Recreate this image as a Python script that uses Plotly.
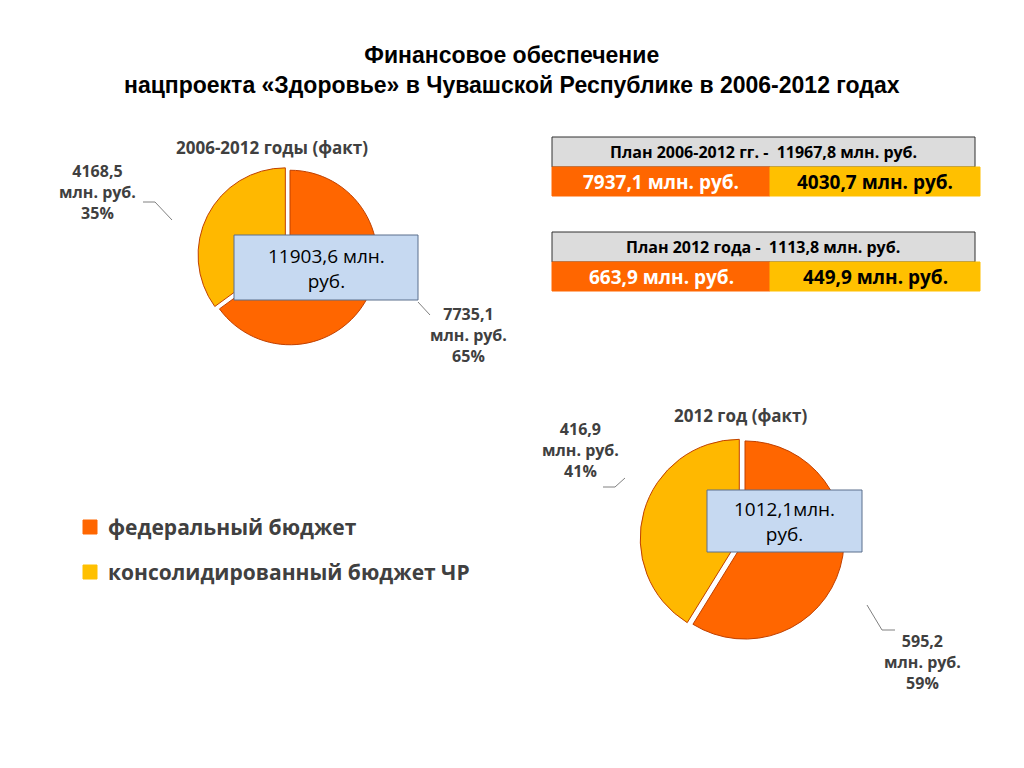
import plotly.graph_objects as go

W, H = 1024, 768

labels = ["федеральный бюджет", "консолидированный бюджет ЧР"]
colors = ["#FF6600", "#FFB800"]

fact_all = [7735.1, 4168.5]
fact_2012 = [595.2, 416.9]
total_all = "11903,6 млн.<br>руб."
total_2012 = "1012,1млн.<br>руб."

plan_all = "План 2006-2012 гг. -  11967,8 млн. руб."
plan_all_parts = ["7937,1 млн. руб.", "4030,7 млн. руб."]
plan_2012 = "План 2012 года -  1113,8 млн. руб."
plan_2012_parts = ["663,9 млн. руб.", "449,9 млн. руб."]

OFF = 8  # page body margin


def px(x):
    return (x - OFF) / W


def py(y):
    return 1 - (y - OFF) / H


fig = go.Figure()

fig.add_trace(go.Pie(
    values=fact_all, labels=labels, sort=False, direction="clockwise",
    rotation=0, pull=[0, 0.06], textinfo="none", hoverinfo="label+value",
    marker=dict(colors=colors, line=dict(color="#C04000", width=1)),
    domain=dict(x=[px(195), px(385)], y=[py(350), py(165)]),
    showlegend=False))

fig.add_trace(go.Pie(
    values=fact_2012, labels=labels, sort=False, direction="clockwise",
    rotation=0, pull=[0, 0.06], textinfo="none", hoverinfo="label+value",
    marker=dict(colors=colors, line=dict(color="#C04000", width=1)),
    domain=dict(x=[px(635), px(855)], y=[py(645), py(435)]),
    showlegend=False))

shapes = []
ann = []


def text(x, y, s, size=15, color="#404040", bold=True, align="center", xanchor="center"):
    ann.append(dict(x=px(x), y=py(y), xref="paper", yref="paper", text=f"<b>{s}</b>" if bold else s,
                    showarrow=False, align=align, xanchor=xanchor, yanchor="middle",
                    font=dict(size=size, color=color, family="Open Sans")))


# title
ann.append(dict(x=px(512), y=py(70), xref="paper", yref="paper", showarrow=False, yanchor="middle",
                text="<b>Финансовое обеспечение<br>нацпроекта «Здоровье» в Чувашской Республике в 2006-2012 годах</b>",
                font=dict(size=23, color="#000000", family="Liberation Sans")))

text(272, 147, "2006-2012 годы (факт)", 17)
text(740, 415, "2012 год (факт)", 17)

text(97, 192, "4168,5<br>млн. руб.<br>35%", 16)
text(468, 335, "7735,1<br>млн. руб.<br>65%", 16)
text(580, 450, "416,9<br>млн. руб.<br>41%", 16)
text(922, 662, "595,2<br>млн. руб.<br>59%", 16)

# leader lines
shapes += [
    dict(type="path", path=f"M {px(143)} {py(202)} L {px(155)} {py(202)} L {px(172)} {py(220)}",
         xref="paper", yref="paper", line=dict(color="#808080", width=1)),
    dict(type="path", path=f"M {px(418)} {py(302)} L {px(430)} {py(315)}",
         xref="paper", yref="paper", line=dict(color="#808080", width=1)),
    dict(type="path", path=f"M {px(603)} {py(487)} L {px(615)} {py(487)} L {px(625)} {py(478)}",
         xref="paper", yref="paper", line=dict(color="#808080", width=1)),
    dict(type="path", path=f"M {px(867)} {py(605)} L {px(882)} {py(630)} L {px(895)} {py(630)}",
         xref="paper", yref="paper", line=dict(color="#808080", width=1)),
]


def box(x0, y0, x1, y1, fill, line="#404040"):
    shapes.append(dict(type="rect", xref="paper", yref="paper", x0=px(x0), x1=px(x1), y0=py(y1), y1=py(y0),
                       fillcolor=fill, line=dict(color=line, width=1)))


# total boxes
box(234, 235, 418, 300, "#C6D9F1", "#5A6E8C")
text(326, 268, total_all, 19, "#000000", bold=False)
box(707, 490, 862, 552, "#C6D9F1", "#5A6E8C")
text(784, 521, total_2012, 19, "#000000", bold=False)

# plan boxes
for y0, title, parts in [(137, plan_all, plan_all_parts), (232, plan_2012, plan_2012_parts)]:
    box(552, y0, 975, y0 + 30, "#DCDCDC", "#303030")
    text(763, y0 + 15, title, 16, "#000000")
    box(552, y0 + 30, 770, y0 + 59, colors[0], colors[0])
    box(770, y0 + 30, 980, y0 + 59, "#FFC000", "#FFC000")
    text(661, y0 + 45, parts[0], 19, "#FFFFFF")
    text(875, y0 + 45, parts[1], 19, "#000000")

# legend
for i, (lab, c) in enumerate(zip(labels, ["#FF6600", "#FFC000"])):
    y = 527 + i * 45
    box(83, y - 7, 97, y + 7, c, c)
    text(106, y, lab, 21, "#404040", xanchor="left", align="left")

fig.update_layout(width=W, height=H, margin=dict(l=0, r=0, t=0, b=0),
                  paper_bgcolor="white", plot_bgcolor="white",
                  shapes=shapes, annotations=ann)
fig.write_html("out.html")
